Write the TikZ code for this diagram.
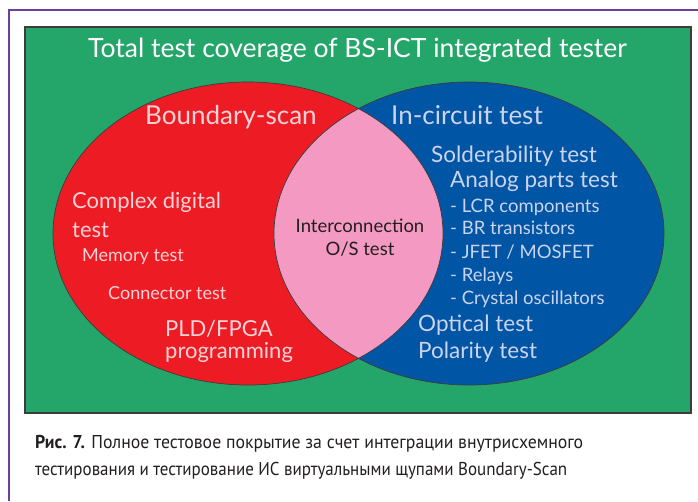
\documentclass[tikz,border=0pt]{standalone}
\usepackage{fontspec}
\setmainfont{Lato}
\newfontfamily\capfont{PT Sans}

\definecolor{bggreen}{HTML}{24A66A}
\definecolor{setred}{HTML}{ED1C24}
\definecolor{setblue}{HTML}{0055A5}
\definecolor{overlap}{HTML}{F49AC2}
\definecolor{rulecol}{HTML}{6E3FA0}
\definecolor{framecol}{HTML}{3C3C3C}
\definecolor{redtext}{HTML}{FBD3D6}
\definecolor{bluetext}{HTML}{CBD3EE}
\definecolor{darktext}{HTML}{231F20}

% caption lines are set to a fixed width, keeping their height
\newcommand{\capline}[2]{\resizebox{#1}{\height}{#2}}

\tikzset{
  lbl/.style={inner sep=0pt, anchor=base west},
  bigred/.style={font=\fontsize{22}{25}\selectfont},
  bigblue/.style={font=\fontsize{22.5}{25}\selectfont},
  head/.style={font=\fontsize{26}{29}\selectfont},
  small/.style={font=\fontsize{18}{21}\selectfont},
  item/.style={font=\fontsize{18.5}{21}\selectfont},
  onred/.style={text=redtext},
  onblue/.style={text=bluetext},
  outline/.style={draw=framecol, line width=0.7pt},
  caption/.style={lbl, text=darktext, font=\capfont\fontsize{18.6}{21}\selectfont},
}

\begin{document}
\begin{tikzpicture}[x=1pt,y=-1pt]
\useasboundingbox (0,0) rectangle (698,501);
\fill[white] (0,0) rectangle (698,501);

% page rules
\draw[rulecol, line width=2.4pt] (9,501) -- (9,10) -- (698,10);

% green panel
\draw[draw=framecol, fill=bggreen, line width=1.2pt] (25,27) rectangle (691,413);

% the two sets and their overlap
\fill[setred] (248,233.5) ellipse [x radius=195pt, y radius=151.5pt];
\fill[setblue] (469,233.5) ellipse [x radius=195pt, y radius=151.5pt];
\begin{scope}
  \clip (248,233.5) ellipse [x radius=195pt, y radius=151.5pt];
  \fill[overlap] (469,233.5) ellipse [x radius=195pt, y radius=151.5pt];
\end{scope}
\draw[outline] (248,233.5) ellipse [x radius=195pt, y radius=151.5pt];
\draw[outline] (469,233.5) ellipse [x radius=195pt, y radius=151.5pt];

% title
\node[inner sep=0pt, anchor=base, text=white, font=\fontsize{26.5}{30}\selectfont]
  (title) at (357.5,57) {Total test coverage of BS-ICT integrated tester};

% boundary-scan set
\node[lbl, head, onred] (bs) at (145,124) {Boundary-scan};
\node[lbl, bigred, onred] (cdt1) at (72,208) {Complex digital};
\node[lbl, bigred, onred] (cdt2) at (72,237) {test};
\node[lbl, small, onred] (mem) at (82,261) {Memory test};
\node[lbl, small, onred] (conn) at (108,299) {Connector test};
\node[lbl, bigred, onred] (pld1) at (165,336) {PLD/FPGA};
\node[lbl, bigred, onred] (pld2) at (165,358) {programming};

% overlap
\node[inner sep=0pt, anchor=base, text=darktext, item] (ic1) at (360,232) {Interconnection};
\node[inner sep=0pt, anchor=base, text=darktext, item] (ic2) at (360,255) {O/S test};

% in-circuit set
\node[lbl, head, onblue] (ict) at (391,124) {In-circuit test};
\node[lbl, bigblue, onblue] (sold) at (431,162) {Solderability test};
\node[lbl, bigblue, onblue] (ana) at (450,187) {Analog parts test};
\node[lbl, item, onblue] (lcr) at (450,212) {- LCR components};
\node[lbl, item, onblue] (br) at (450,234) {- BR transistors};
\node[lbl, item, onblue] (fet) at (450,258) {- JFET / MOSFET};
\node[lbl, item, onblue] (rel) at (450,281) {- Relays};
\node[lbl, item, onblue] (xtal) at (450,304) {- Crystal oscillators};
\node[lbl, bigblue, onblue] (opt) at (418,331) {Optical test};
\node[lbl, bigblue, onblue] (pol) at (418,358) {Polarity test};

% caption
\node[caption] (cap1) at (35,448)
  {\capline{548pt}{\textbf{Рис. 7.} Полное тестовое покрытие за счет интеграции внутрисхемного}};
\node[caption] (cap2) at (35,475)
  {\capline{532pt}{тестирования и тестирование ИС виртуальными щупами Boundary-Scan}};
\end{tikzpicture}
\end{document}
